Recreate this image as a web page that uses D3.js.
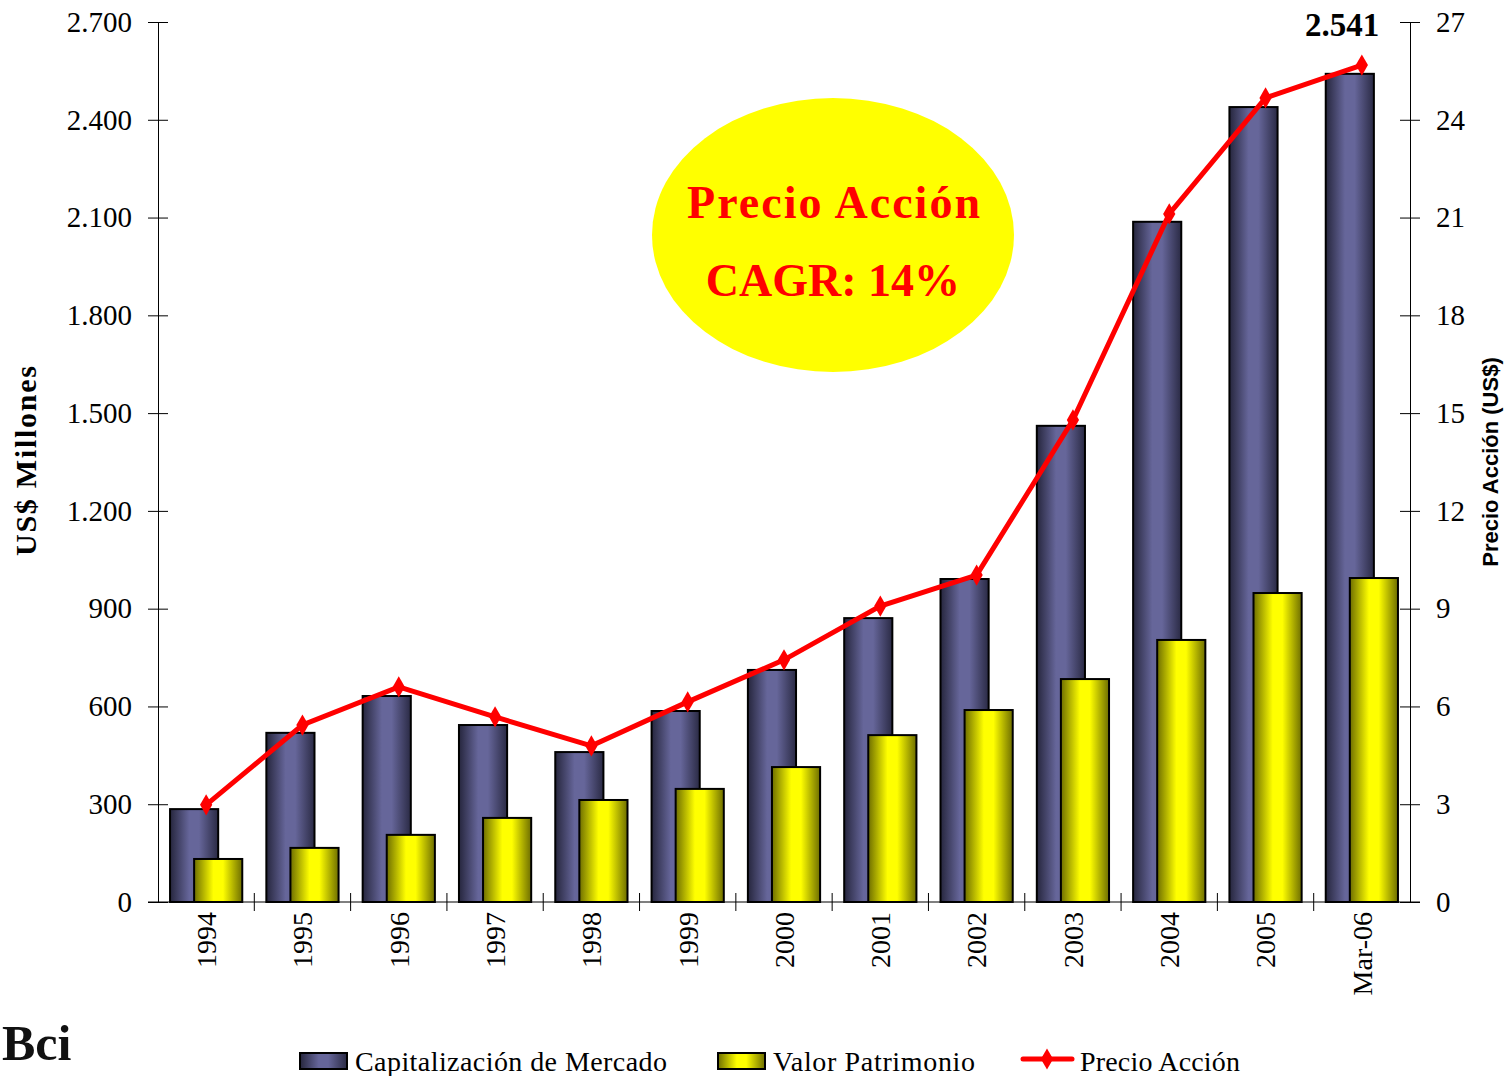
<!DOCTYPE html>
<html>
<head>
<meta charset="utf-8">
<script src="https://cdn.jsdelivr.net/npm/d3@7"></script>
<style>
  body { margin: 0; background: #fff; }
  svg { display: block; }
</style>
</head>
<body>
<div id="chart"></div>
<script>
// chart data
var years = ['1994', '1995', '1996', '1997', '1998', '1999', '2000', '2001', '2002', '2003', '2004', '2005', 'Mar-06'];
var capitalizacion = [285, 519, 632, 543, 460, 586, 712, 871, 991, 1461, 2087, 2439, 2541];
var patrimonio = [132, 166, 206, 258, 313, 347, 414, 512, 589, 684, 804, 948, 994];
var precio = [2.98, 5.43, 6.6, 5.68, 4.79, 6.14, 7.43, 9.08, 10.03, 14.79, 21.11, 24.67, 25.68];
var leftTicks = [0, 300, 600, 900, 1200, 1500, 1800, 2100, 2400, 2700];
var rightTicks = [0, 3, 6, 9, 12, 15, 18, 21, 24, 27];

var W = 1504, H = 1076;
var margin = { top: 22, right: 94, bottom: 174, left: 158 };
var serif = '"Palatino Linotype", "Book Antiqua", Palatino, "Liberation Serif", serif';

var svg = d3.select('#chart').append('svg')
  .attr('width', W)
  .attr('height', H);

var defs = svg.append('defs');
function barGradient(id, stops) {
  var g = defs.append('linearGradient').attr('id', id)
    .attr('x1', '0%').attr('x2', '100%').attr('y1', '0%').attr('y2', '0%');
  stops.forEach(function(s) {
    g.append('stop').attr('offset', s[0]).attr('stop-color', s[1]);
  });
}
barGradient('gradCap', [['0%', '#26263d'], ['40%', '#66669a'], ['60%', '#66669a'], ['100%', '#2a2a44']]);
barGradient('gradPat', [['0%', '#6e6e00'], ['40%', '#ffff00'], ['60%', '#ffff00'], ['100%', '#6e6e00']]);

var x = d3.scaleBand()
  .domain(years)
  .range([margin.left, W - margin.right]);

var y = d3.scaleLinear()
  .domain([0, 2700])
  .range([H - margin.bottom, margin.top]);

var y2 = d3.scaleLinear()
  .domain([0, 27])
  .range([H - margin.bottom, margin.top]);

var bw = x.bandwidth() / 2;

// ellipse label
svg.append('ellipse')
  .attr('cx', 833).attr('cy', 235)
  .attr('rx', 181).attr('ry', 137)
  .attr('fill', '#ffff00');

svg.append('text')
  .attr('x', 687).attr('y', 218)
  .attr('textLength', 293)
  .attr('font-family', serif)
  .attr('font-weight', 'bold')
  .attr('font-size', 46)
  .attr('fill', '#ff0000')
  .text('Precio Acción');

svg.append('text')
  .attr('x', 833).attr('y', 296)
  .attr('text-anchor', 'middle')
  .attr('font-family', serif)
  .attr('font-weight', 'bold')
  .attr('font-size', 46)
  .attr('fill', '#ff0000')
  .text('CAGR: 14%');

// bars
svg.selectAll('rect.cap')
  .data(years)
  .enter().append('rect')
  .attr('class', 'cap')
  .attr('x', function(d) { return x(d) + x.bandwidth() / 8; })
  .attr('y', function(d, i) { return y(capitalizacion[i]); })
  .attr('width', bw)
  .attr('height', function(d, i) { return y(0) - y(capitalizacion[i]); })
  .attr('fill', 'url(#gradCap)')
  .attr('stroke', '#000')
  .attr('stroke-width', 2);

svg.selectAll('rect.pat')
  .data(years)
  .enter().append('rect')
  .attr('class', 'pat')
  .attr('x', function(d) { return x(d) + x.bandwidth() * 3 / 8; })
  .attr('y', function(d, i) { return y(patrimonio[i]); })
  .attr('width', bw)
  .attr('height', function(d, i) { return y(0) - y(patrimonio[i]); })
  .attr('fill', 'url(#gradPat)')
  .attr('stroke', '#000')
  .attr('stroke-width', 2);

// axes
var gLeft = svg.append('g')
  .attr('transform', 'translate(' + margin.left + ',0)')
  .call(d3.axisLeft(y).tickValues(leftTicks).tickSizeInner(10).tickSizeOuter(0)
    .tickFormat(function(d) { return d3.format(',')(d).replace(/,/g, '.'); }));
gLeft.selectAll('.tick line').attr('x1', -10).attr('x2', 10);

var gRight = svg.append('g')
  .attr('transform', 'translate(' + (W - margin.right) + ',0)')
  .call(d3.axisRight(y2).tickValues(rightTicks).tickSizeInner(10).tickSizeOuter(0));
gRight.selectAll('.tick line').attr('x1', -10).attr('x2', 10);

var gBottom = svg.append('g')
  .attr('transform', 'translate(0,' + y(0) + ')')
  .call(d3.axisBottom(x).tickSize(0).tickSizeOuter(0));
gBottom.select('.domain').attr('d', 'M' + (margin.left - 10) + ',0H' + (W - margin.right + 10));

// category separators crossing the axis
svg.selectAll('line.sep')
  .data(years.slice(1))
  .enter().append('line')
  .attr('class', 'sep')
  .attr('x1', function(d) { return x(d); })
  .attr('x2', function(d) { return x(d); })
  .attr('y1', y(0) - 9).attr('y2', y(0) + 9)
  .attr('stroke', '#000');

[gLeft, gRight, gBottom].forEach(function(g) {
  g.selectAll('.domain').attr('stroke', '#000');
  g.selectAll('text')
    .attr('font-family', serif)
    .attr('font-size', 29)
    .attr('fill', '#000');
});
gLeft.selectAll('text').attr('x', -26);
gRight.selectAll('text').attr('x', 26);

gBottom.selectAll('.tick text')
  .attr('font-size', 28)
  .attr('transform', 'rotate(-90)')
  .attr('text-anchor', 'end')
  .attr('x', -10)
  .attr('y', 0)
  .attr('dy', '0.35em');

// price line
var line = d3.line()
  .x(function(d, i) { return x(years[i]) + x.bandwidth() / 2; })
  .y(function(d) { return y2(d); });

svg.append('path')
  .datum(precio)
  .attr('d', line)
  .attr('fill', 'none')
  .attr('stroke', '#ff0000')
  .attr('stroke-width', 5);

svg.selectAll('path.marker')
  .data(precio)
  .enter().append('path')
  .attr('class', 'marker')
  .attr('d', d3.symbol().type(d3.symbolDiamond).size(130))
  .attr('transform', function(d, i) {
    return 'translate(' + (x(years[i]) + x.bandwidth() / 2) + ',' + y2(d) + ')';
  })
  .attr('fill', '#ff0000');

// last value label
svg.append('text')
  .attr('x', 1342).attr('y', 36)
  .attr('text-anchor', 'middle')
  .attr('font-family', serif)
  .attr('font-weight', 'bold')
  .attr('font-size', 33)
  .text(d3.format(',')(capitalizacion[capitalizacion.length - 1]).replace(/,/g, '.'));

// axis titles
svg.append('text')
  .attr('transform', 'translate(36,556) rotate(-90)')
  .attr('textLength', 190)
  .attr('font-family', serif)
  .attr('font-weight', 'bold')
  .attr('font-size', 30)
  .text('US$ Millones');

svg.append('text')
  .attr('transform', 'translate(1498,' + 462 + ') rotate(-90)')
  .attr('text-anchor', 'middle')
  .attr('font-family', '"Liberation Sans", Arial, sans-serif')
  .attr('font-weight', 'bold')
  .attr('font-size', 22)
  .text('Precio Acción (US$)');

// legend
var legend = svg.append('g').attr('font-family', serif).attr('font-size', 28);

legend.append('rect')
  .attr('x', 300).attr('y', 1053).attr('width', 47).attr('height', 16)
  .attr('fill', 'url(#gradCap)').attr('stroke', '#000').attr('stroke-width', 2);
legend.append('text').attr('x', 355).attr('y', 1071).attr('textLength', 312).text('Capitalización de Mercado');

legend.append('rect')
  .attr('x', 718).attr('y', 1053).attr('width', 47).attr('height', 16)
  .attr('fill', 'url(#gradPat)').attr('stroke', '#000').attr('stroke-width', 2);
legend.append('text').attr('x', 773).attr('y', 1071).attr('textLength', 202).text('Valor Patrimonio');

legend.append('line')
  .attr('x1', 1023).attr('x2', 1072).attr('y1', 1059).attr('y2', 1059)
  .attr('stroke', '#ff0000').attr('stroke-width', 5).attr('stroke-linecap', 'round');
legend.append('path')
  .attr('d', d3.symbol().type(d3.symbolDiamond).size(130))
  .attr('transform', 'translate(1047,1059)')
  .attr('fill', '#ff0000');
legend.append('text').attr('x', 1080).attr('y', 1071).attr('textLength', 160).text('Precio Acción');

// logo in the bottom-left corner
svg.append('text')
  .attr('x', 2).attr('y', 1060)
  .attr('font-family', serif)
  .attr('font-weight', 'bold')
  .attr('font-size', 50)
  .attr('fill', '#111')
  .text('Bci');
</script>
</body>
</html>
